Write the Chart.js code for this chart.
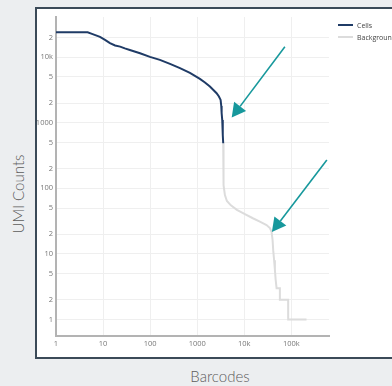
<!DOCTYPE html>
<html>
<head>
<meta charset="utf-8">
<script src="https://cdn.jsdelivr.net/npm/chart.js@4"></script>
<style>
  html, body { margin: 0; padding: 0; width: 392px; height: 386px; overflow: hidden; background: #eceef0; }
  #box { position: absolute; left: 35px; top: 7px; width: 400px; height: 348px; border: 2px solid #3b4a58; background: #fff; }
  #wrap { position: absolute; left: 0; top: 0; width: 355px; height: 348px; }
  .ttl { position: absolute; font-family: Lato, "Open Sans", sans-serif; font-weight: 300; font-size: 15px; color: #5c5c5c; white-space: nowrap; }
  #ytitle { left: 18px; top: 194px; transform: translate(-50%, -50%) rotate(-90deg); }
  #xtitle { left: 220px; top: 376px; transform: translate(-50%, -50%); }
  #legend { position: absolute; left: 301px; top: 10px; font-family: "Open Sans", sans-serif; font-size: 7px; color: #444; }
  .item { height: 12px; display: flex; align-items: center; white-space: nowrap; }
  .swatch { width: 15px; height: 2px; margin-right: 4px; }
</style>
</head>
<body>
<div id="box">
  <div id="wrap"><canvas id="myChart"></canvas></div>
  <div id="legend">
    <div class="item"><span class="swatch" style="background:#1f3b66"></span>Cells</div>
    <div class="item"><span class="swatch" style="background:#dcdcdc"></span>Background</div>
  </div>
</div>
<div class="ttl" id="ytitle">UMI Counts</div>
<div class="ttl" id="xtitle">Barcodes</div>
<script>
// barcode rank vs UMI count
const cellsX = [1, 2, 4.7, 5.8, 8.6, 11, 14, 18, 23, 29, 37, 61, 99, 161, 264, 430, 700, 1140, 1460, 1860, 2260, 2580, 2890, 3140, 3240, 3300, 3400, 3460, 3520, 3565];
const cellsY = [24100, 24000, 23900, 22700, 20400, 18400, 16400, 15100, 14500, 13600, 12900, 11500, 10100, 9100, 7900, 6800, 5750, 4670, 4120, 3560, 3110, 2820, 2520, 2230, 1800, 1410, 1100, 870, 650, 487];

const bgX = [3565, 3600, 3650, 3875, 4270, 5190, 6960, 10300, 15200, 21400, 29700, 35000, 38000, 39900, 41100, 43000, 44700, 46400, 48500, 57000, 57000, 85500, 85500, 210000];
const bgY = [487, 190, 112, 79, 64, 55, 47, 40.5, 35, 31, 27.5, 24.8, 21.7, 16.2, 11.4, 8, 5.7, 4, 3, 3, 2, 2, 1, 1];

const xTicks = [1, 10, 100, 1000, 10000, 100000];
const xTickLabels = ['1', '10', '100', '1000', '10k', '100k'];
const yTicks = [1, 2, 5, 10, 20, 50, 100, 200, 500, 1000, 2000, 5000, 10000, 20000];
const yTickLabels = ['1', '2', '5', '10', '2', '5', '100', '2', '5', '1000', '2', '5', '10k', '2'];

// arrow annotations (tail -> head) in data units
const arrowFromX = [72800, 567000];
const arrowFromY = [14400, 270];
const arrowToX = [5400, 38500];
const arrowToY = [1200, 21.5];

function points(xs, ys) {
    return xs.map((v, i) => ({ x: v, y: ys[i] }));
}

const arrowPlugin = {
    id: 'arrows',
    afterDatasetsDraw(chart) {
        const ctx = chart.ctx;
        const sx = chart.scales.x, sy = chart.scales.y;
        ctx.save();
        ctx.strokeStyle = '#17989c';
        ctx.fillStyle = '#17989c';
        ctx.lineWidth = 1.6;
        for (let i = 0; i < arrowFromX.length; i++) {
            const x0 = sx.getPixelForValue(arrowFromX[i]), y0 = sy.getPixelForValue(arrowFromY[i]);
            const x1 = sx.getPixelForValue(arrowToX[i]), y1 = sy.getPixelForValue(arrowToY[i]);
            const a = Math.atan2(y1 - y0, x1 - x0);
            const len = 14, half = 7.5;
            const bx = x1 - len * Math.cos(a), by = y1 - len * Math.sin(a);
            ctx.beginPath();
            ctx.moveTo(x0, y0);
            ctx.lineTo(bx, by);
            ctx.stroke();
            ctx.beginPath();
            ctx.moveTo(x1, y1);
            ctx.lineTo(bx + half * Math.sin(a), by - half * Math.cos(a));
            ctx.lineTo(bx - half * Math.sin(a), by + half * Math.cos(a));
            ctx.closePath();
            ctx.fill();
        }
        ctx.restore();
    }
};

const tickFont = { family: 'Open Sans', size: 7.5 };

new Chart(document.getElementById('myChart').getContext('2d'), {
    type: 'scatter',
    data: {
        datasets: [{
            label: 'Cells',
            data: points(cellsX, cellsY),
            showLine: true,
            borderColor: '#1f3b66',
            borderWidth: 2,
            pointRadius: 0,
            tension: 0
        }, {
            label: 'Background',
            data: points(bgX, bgY),
            showLine: true,
            borderColor: '#dcdcdc',
            borderWidth: 2,
            pointRadius: 0,
            tension: 0
        }]
    },
    options: {
        responsive: true,
        maintainAspectRatio: false,
        animation: false,
        layout: { padding: { top: 8, right: 63, left: 0, bottom: 0 } },
        plugins: { legend: { display: false }, tooltip: { enabled: false } },
        scales: {
            x: {
                type: 'logarithmic',
                min: 1,
                max: 630000,
                afterBuildTicks: s => { s.ticks = xTicks.map(v => ({ value: v })); },
                afterFit: s => { s.height = 21; },
                ticks: {
                    autoSkip: false,
                    maxRotation: 0,
                    padding: 3,
                    color: '#777',
                    font: tickFont,
                    callback: (v, i) => xTickLabels[i]
                },
                grid: { color: '#efefef', drawTicks: false },
                border: { color: '#b3b3b3', width: 2 }
            },
            y: {
                type: 'logarithmic',
                min: 0.56,
                max: 41000,
                afterBuildTicks: s => { s.ticks = yTicks.map(v => ({ value: v })); },
                afterFit: s => { s.width = 19; },
                ticks: {
                    autoSkip: false,
                    padding: 3,
                    color: '#777',
                    font: tickFont,
                    callback: (v, i) => yTickLabels[i]
                },
                grid: { color: '#efefef', drawTicks: false },
                border: { color: '#b3b3b3', width: 2 }
            }
        }
    },
    plugins: [arrowPlugin]
});
</script>
</body>
</html>
